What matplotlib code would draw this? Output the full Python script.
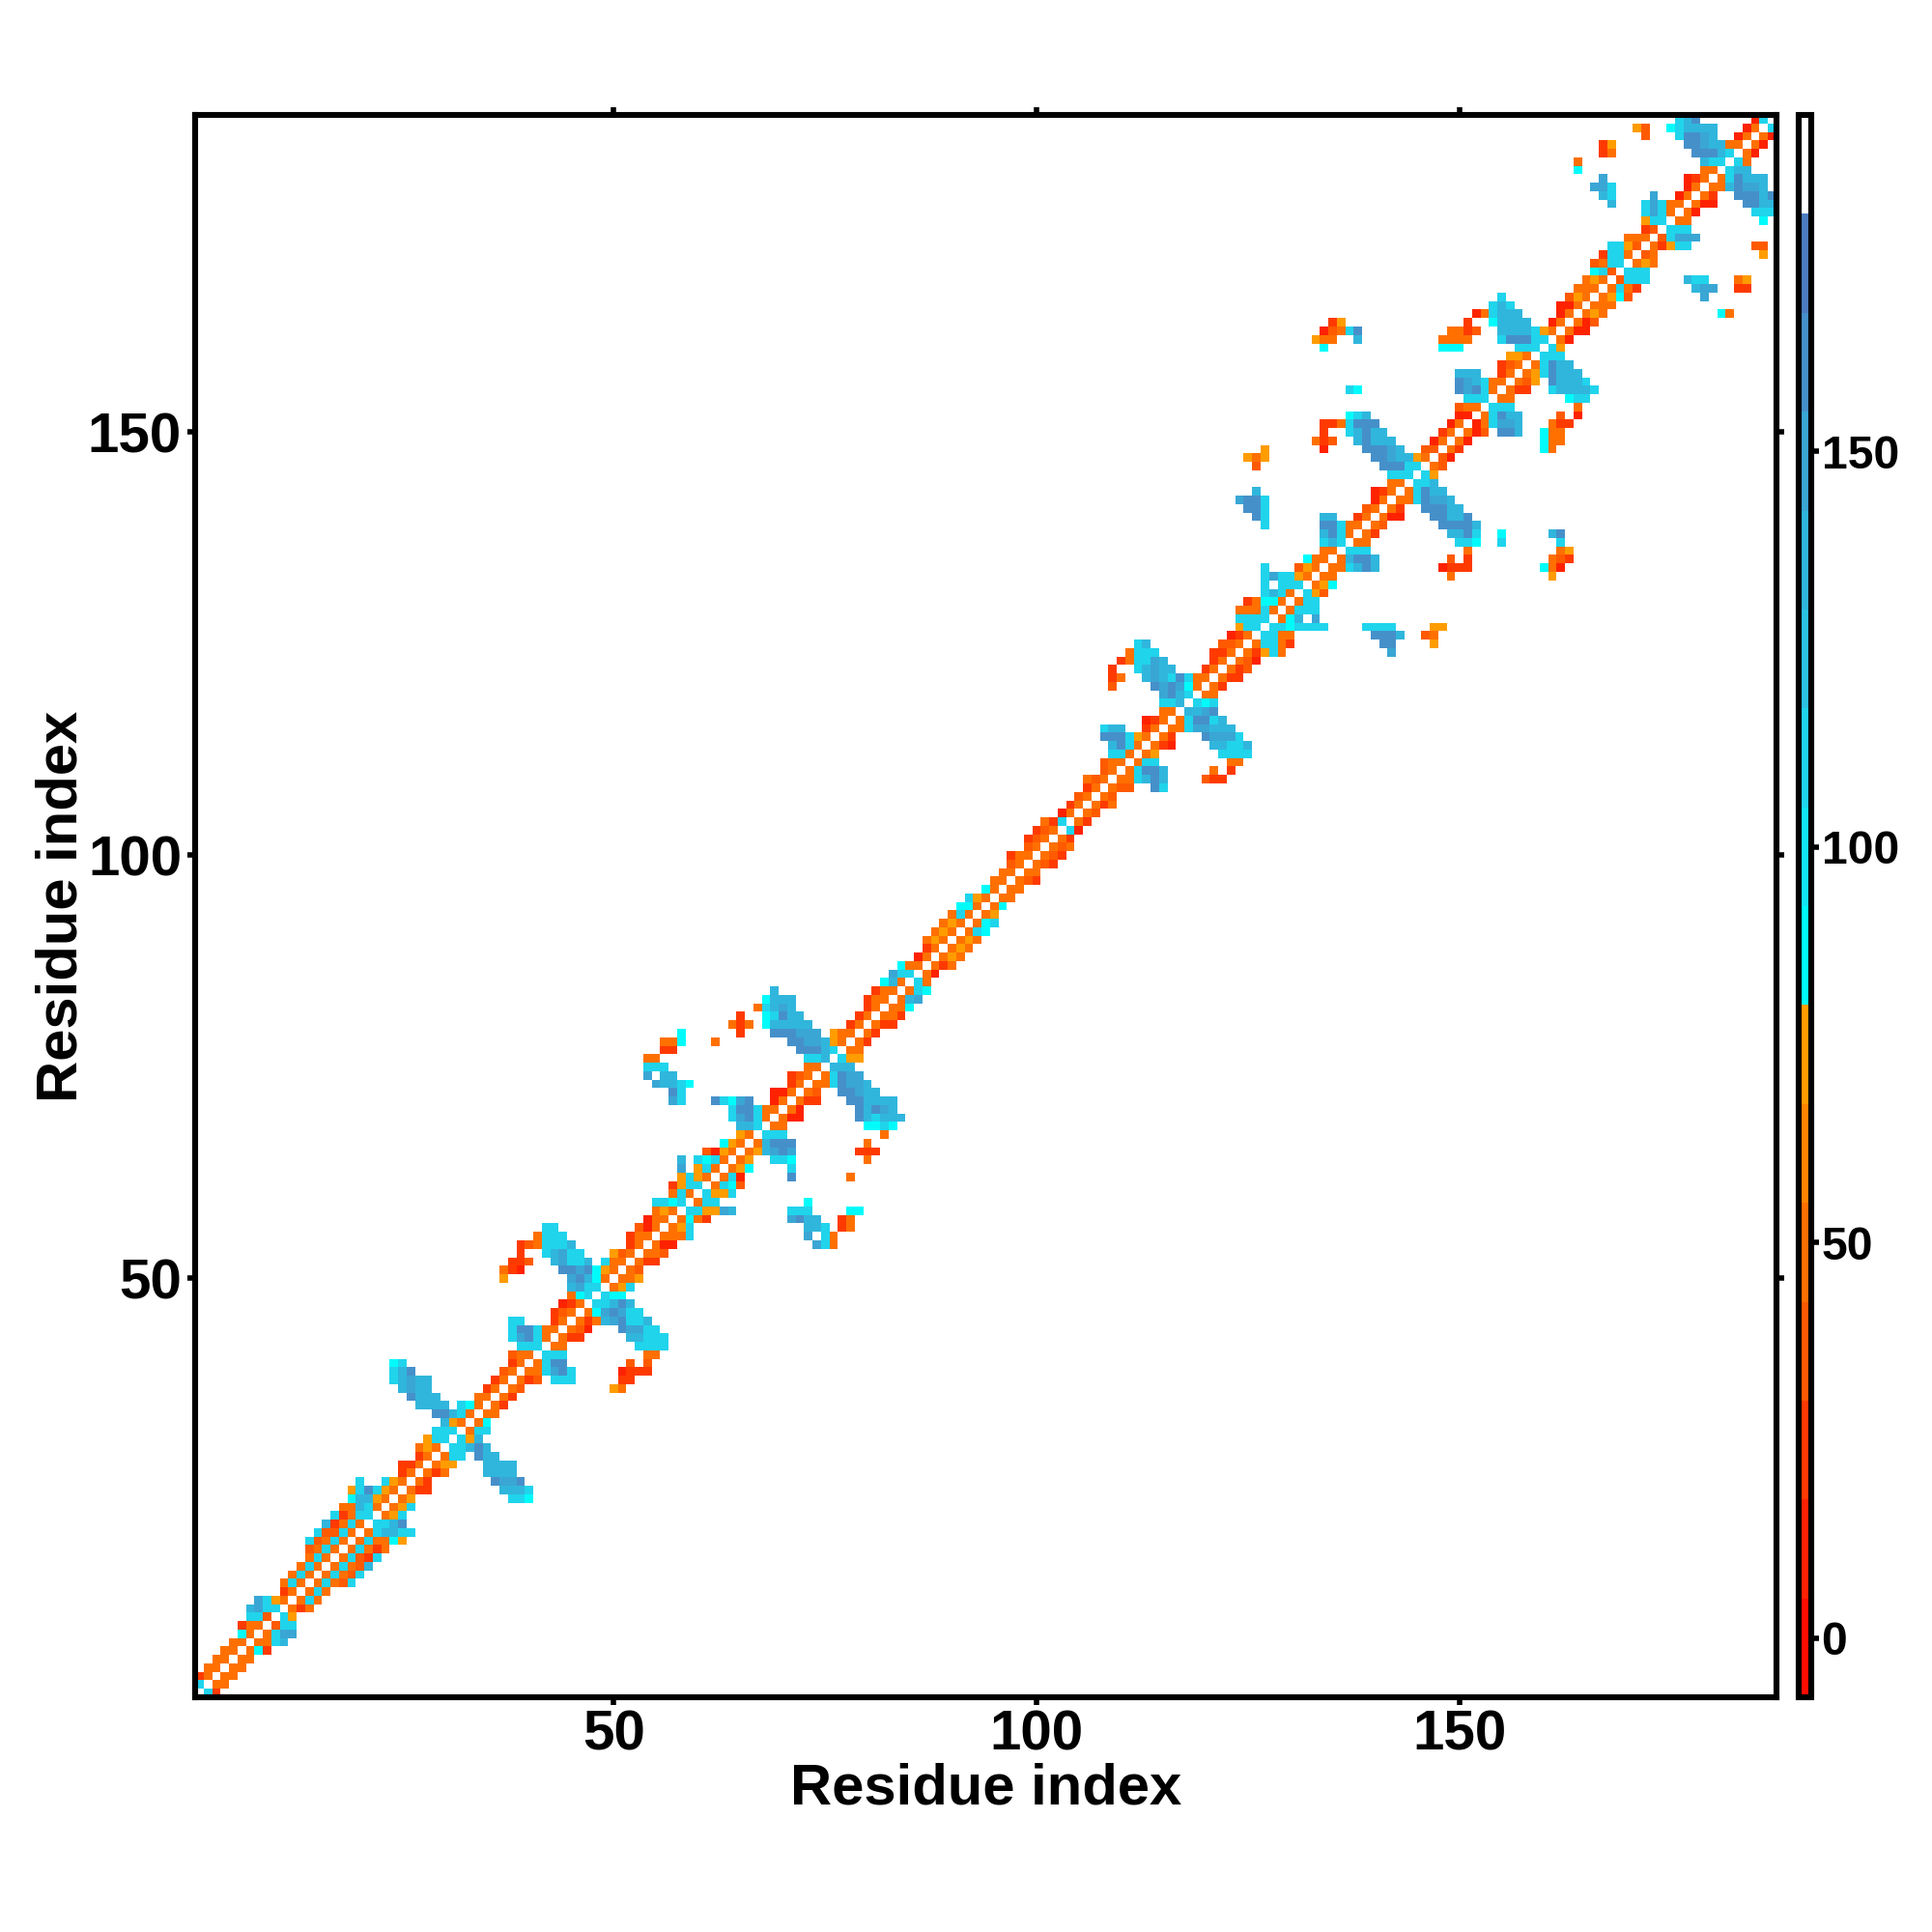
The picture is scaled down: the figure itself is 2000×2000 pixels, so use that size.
import numpy as np
import matplotlib
matplotlib.use("Agg")
import matplotlib.pyplot as plt
from matplotlib.colors import ListedColormap, BoundaryNorm

plt.rcParams['font.family'] = ['Liberation Sans', 'DejaVu Sans']
plt.rcParams['font.weight'] = 'bold'

n_res = 187
residue_ticks = [50, 100, 150]
bar_ticks = [0, 50, 100, 150]

# colour steps of the scale, 12.5 units each
bounds = [-7.5, 5, 17.5, 30, 42.5, 55, 67.5, 80, 92.5, 105, 117.5, 130, 142.5, 155, 167.5, 180, 192.5]
bar_colors = ['#ff0d00', '#ff2200', '#ff3a00', '#ff5a00', '#ff7000', '#ff8500', '#ff9c00',
              '#00fbfb', '#12e6f2', '#20d4ec', '#2cc2e4', '#30b6dc', '#3aa6d4', '#4690ca', '#4c7cc0', '#ffffff']

# letter -> value read against the colour bar
code_values = {'a': 11, 'b': 24, 'c': 36, 'd': 48, 'e': 74, 'f': 86,
               'g': 111, 'h': 136, 'i': 148, 'j': 161}

# lower triangle, (row, first column, values), '.' is an empty cell
rows_1_24 = [
    (1, 2, "gb"), (2, 3, "dd"), (3, 4, "dd"), (4, 5, "dd"), (5, 6, "dd"), (6, 7, "dfb"),
    (7, 8, "ddgh"), (8, 9, "dgii"), (9, 10, "cgg"), (10, 11, "ge"), (11, 12, "dbd"),
    (12, 13, "dgd"), (13, 14, "dgd"), (14, 15, "dgdcg"), (15, 16, "dgdcg"), (16, 17, "dgdch"),
    (17, 18, "dgcbg"), (18, 19, "dgdbd"), (19, 20, "dgddfe"), (20, 21, "dghhgg"),
    (21, 22, "gghj"), (22, 23, "deg"), (23, 24, "deg"), (24, 25, "de"), (24, 38, "ggf"),
]
rows_25_53 = [
    (25, 26, "dbb"), (25, 37, "hhhg"), (26, 27, "db"), (26, 36, "jiij"), (27, 28, "dbd"),
    (27, 35, "hhhh"), (28, 29, "dee"), (28, 35, "hhhh"), (29, 30, "dgg.jhh"), (30, 31, "gghjh"),
    (31, 32, "geh"), (32, 33, "dgg"), (33, 34, "df"), (34, 35, "dd"), (35, 36, "db"),
    (36, 37, "db"), (37, 38, "dc"), (37, 50, "ed"), (38, 39, "dbc.ggg"), (38, 51, "bb"),
    (39, 40, "ddgijg"), (39, 51, "abbb"), (40, 41, "dgjj"), (40, 52, "c.c"), (41, 42, "ggg"),
    (41, 54, "dd"), (42, 43, "dd"), (42, 53, "gggg"), (43, 44, "dbb"), (43, 52, "hhggg"),
    (44, 45, "dca"), (44, 51, "jiigg"), (45, 46, "dbdhijggh"), (46, 47, "dfijigg"),
    (47, 48, "gghjh"), (48, 49, "gff"), (49, 50, "deg"), (50, 51, "dde"), (51, 52, "dc"),
    (52, 53, "dbb"), (53, 54, "ddc"),
]
rows_54_88 = [
    (54, 55, "daa"), (54, 74, "igd"), (55, 56, "dddg"), (55, 73, "i.gd"), (56, 57, "deg"),
    (56, 73, "hhg.bd"), (57, 58, "dfdb"), (57, 71, "ijhh"), (57, 77, "bd"), (58, 59, "ggeeih"),
    (58, 71, "ggg"), (58, 78, "ff"), (59, 60, "dgg"), (59, 73, "f"), (60, 61, "geeg"),
    (61, 62, "dgfc"), (62, 63, "dga"), (62, 71, "j"), (62, 78, "d"), (63, 64, "def"),
    (63, 71, "g"), (64, 65, "de"), (64, 69, "ggf"), (64, 80, "d"), (65, 66, "dehiji"),
    (65, 79, "bbb"), (66, 67, "dhjjj"), (66, 80, "d"), (67, 68, "ggg"), (67, 82, "d"),
    (68, 69, "dd"), (68, 80, "ffgf"), (69, 70, "daa"), (69, 79, "jhghhh"), (70, 71, "da"),
    (70, 79, "jhjih"), (71, 72, "dbb"), (71, 78, "jjhhhh"), (72, 73, "dc"), (72, 77, "jjihh"),
    (73, 74, "ddgjiih"), (74, 75, "dgjii"), (75, 76, "hhh"), (76, 77, "gee"), (77, 78, "dd"),
    (78, 79, "db"), (79, 80, "db"), (80, 81, "dbb"), (81, 82, "ddb"), (82, 83, "ddf"),
    (83, 84, "dhi"), (84, 85, "dgf"), (85, 86, "gd"), (86, 87, "da"), (87, 88, "dbd"), (88, 89, "ded"),
]
rows_89_123 = [
    (89, 90, "ded"), (90, 91, "ded"), (91, 92, "dgf"), (92, 93, "dfg"), (93, 94, "de"), (94, 95, "df"),
    (95, 96, "dd"), (96, 97, "dd"), (97, 98, "dcb"), (98, 99, "dd"), (99, 100, "dcb"),
    (100, 101, "dcb"), (101, 102, "dcd"), (102, 103, "db"), (103, 104, "ga"), (104, 105, "db"),
    (105, 106, "dc"), (106, 107, "dbd"), (107, 108, "dc"), (108, 109, "dcc"), (108, 114, "jg"),
    (109, 110, "ddghjh"), (109, 120, "cbb"), (110, 111, "dgjjh"), (110, 121, "d.b"),
    (111, 112, "dgg"), (111, 123, "dd"), (112, 113, "de"), (112, 122, "gggg"), (113, 114, "dba"),
    (113, 121, "hhggh"), (114, 115, "db"), (114, 120, "jiiig"), (115, 116, "ddgiihhh"),
    (116, 117, "dgjjgh"), (117, 118, "hhij"), (118, 119, "gfg"), (119, 120, "dd"), (120, 121, "db"),
    (121, 122, "dbb"), (122, 123, "dbc"), (123, 124, "dca"),
]
rows_124_150 = [
    (124, 125, "dbegd"), (124, 142, "i"), (125, 126, "dggdb"), (125, 141, "jj"), (125, 147, "e"),
    (126, 127, "ggdd"), (126, 140, "jjjh"), (126, 146, "cd"), (127, 128, "ggfgggg"), (127, 139, "gggg"),
    (127, 147, "ee"), (128, 129, "dfh.i"), (129, 130, "dggg"), (130, 131, "dgg"), (131, 132, "gec"),
    (132, 133, "def"), (133, 134, "dd"), (133, 149, "d"), (133, 161, "e"), (134, 135, "ddghjh"),
    (134, 148, "abbb"), (134, 160, "fda"), (135, 136, "dhjjh"), (135, 149, "c.b"), (135, 161, "dcb"),
    (136, 137, "ggg"), (136, 151, "d"), (136, 162, "de"), (137, 138, "dd"), (137, 150, "ggf"),
    (137, 155, "g"), (137, 162, "g"), (138, 139, "db"), (138, 149, "hhjg"), (138, 155, "f"),
    (138, 161, "hj"), (139, 140, "dc"), (139, 148, "jjjjh"), (140, 141, "daa"), (140, 147, "jjhhj"),
    (141, 142, "db"), (141, 146, "jjjhh"), (142, 143, "ddgjiih"), (143, 144, "dgjhh"), (144, 145, "ggh"),
    (145, 146, "ge"), (146, 147, "dc"), (147, 148, "ca"), (148, 149, "db"), (148, 160, "fd"),
    (149, 150, "da"), (149, 160, "fdd"), (150, 151, "dac"), (150, 155, "jjh"), (150, 160, "fdd"),
]
rows_151_186 = [
    (151, 152, "adgiih"), (151, 161, "dbb"), (152, 153, "dgjhh"), (152, 162, "c.a"), (153, 154, "ggg"),
    (153, 164, "d"), (154, 155, "dd"), (154, 163, "fgg"), (155, 156, "dbb"), (155, 161, "ghhhhg"),
    (156, 157, "dce"), (156, 161, "jhhhg"), (157, 158, "degjhhh"), (158, 159, "dgjhh"), (159, 160, "ggg"),
    (160, 161, "ge"), (161, 162, "da"), (162, 163, "daa"), (163, 164, "dac"), (164, 165, "ded"),
    (164, 181, "fd"), (165, 166, "ddd"), (166, 167, "defc"), (166, 179, "i"), (167, 168, "dgdb"),
    (167, 178, "hii"), (167, 183, "bb"), (168, 169, "cggg"), (168, 177, "hgg"), (168, 183, "de"),
    (169, 170, "ggg"), (170, 171, "ded"), (171, 172, "cd"), (171, 186, "e"), (172, 173, "dbegg"),
    (172, 185, "cc"), (173, 174, "cgiii"), (174, 175, "ggg"), (175, 176, "dd"), (175, 186, "f"),
    (176, 177, "da"), (176, 185, "ggg"), (177, 178, "daa"), (177, 184, "jjhh"), (178, 179, "db"),
    (178, 183, "jjjhj"), (179, 180, "ddhjiih"), (180, 181, "dgjhhh"), (181, 182, "ghh"),
    (182, 183, "gd"), (183, 184, "da"), (184, 185, "da"), (185, 186, "da"), (186, 187, "g"),
]

# the map is symmetric, fill both triangles
angle = np.full((n_res, n_res), np.nan)
for part in [rows_1_24, rows_25_53, rows_54_88, rows_89_123, rows_124_150, rows_151_186]:
    for row, col, codes in part:
        for k, c in enumerate(codes):
            if c != '.':
                angle[row - 1, col - 1 + k] = code_values[c]
                angle[col - 1 + k, row - 1] = code_values[c]

cmap = ListedColormap(bar_colors)
cmap.set_bad('white')
norm = BoundaryNorm(bounds, cmap.N)

fig = plt.figure(figsize=(10, 10), dpi=200)
ax = fig.add_axes([202 / 2000, 243 / 2000, 1637 / 2000, 1638 / 2000])
edges = np.arange(n_res + 1) + 0.5
mesh = ax.pcolormesh(edges, edges, angle, cmap=cmap, norm=norm, rasterized=True)
ax.set_xlim(0.5, n_res + 0.5)
ax.set_ylim(0.5, n_res + 0.5)

ax.set_xticks(residue_ticks)
ax.set_yticks(residue_ticks)
ax.tick_params(axis='both', top=True, right=True, length=3, width=2, labelsize=21)
ax.tick_params(axis='x', pad=1.5)
ax.tick_params(axis='y', pad=2)
for spine in ax.spines.values():
    spine.set_linewidth(2.2)

ax.set_xlabel("Residue index", fontsize=21.5, fontweight='bold')
ax.xaxis.set_label_coords(0.5, -0.058)
ax.xaxis.label.set_va('center')
ax.set_ylabel("Residue index", fontsize=21.5, fontweight='bold')
ax.yaxis.set_label_coords(-0.084, 0.5)
ax.yaxis.label.set_va('center')

## Colour bar
cax = fig.add_axes([1862 / 2000, 243 / 2000, 12.5 / 2000, 1638 / 2000])
cb = fig.colorbar(mesh, cax=cax, spacing='proportional', ticks=bar_ticks)
cb.ax.tick_params(length=3, width=2, labelsize=17.3, pad=1)
cb.outline.set_linewidth(2.2)
cb.ax.minorticks_off()

fig.savefig("out.png", dpi=200, facecolor='white')
